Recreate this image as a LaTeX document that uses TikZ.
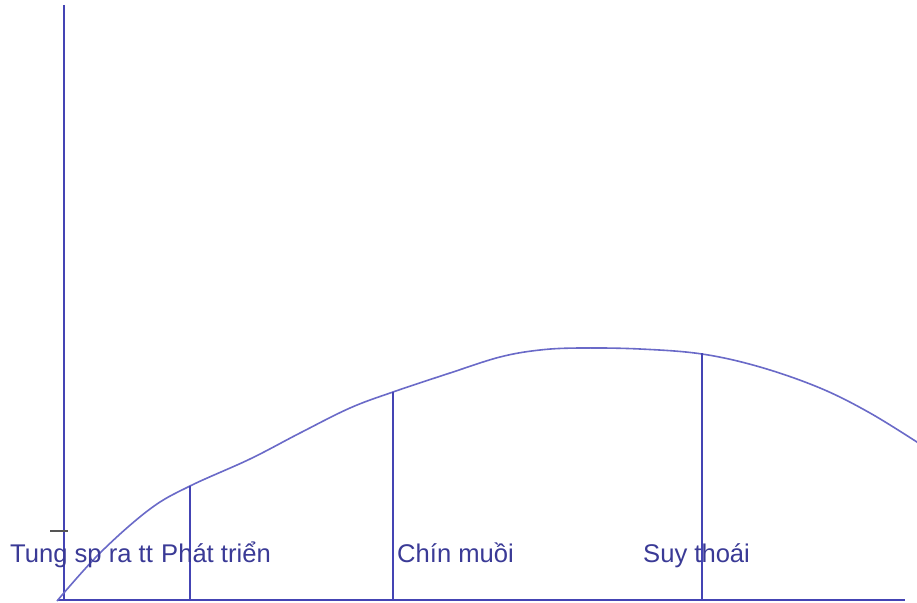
\documentclass[tikz,border=0pt]{standalone}
\usepackage{fontspec}
\setmainfont{Liberation Sans}
\definecolor{axisc}{HTML}{4444B4}
\definecolor{curvec}{HTML}{6A6AC8}
\definecolor{textc}{HTML}{3A3A96}
\definecolor{tickc}{HTML}{555555}
\begin{document}
\begin{tikzpicture}[x=1pt,y=-1pt,
  axis/.style={draw=axisc,line width=1.7pt},
  vline/.style={draw=axisc,line width=1.6pt},
  curve/.style={draw=curvec,line width=1.6pt},
  lbl/.style={text=textc,font=\fontsize{25.6}{29}\selectfont,inner sep=0pt,anchor=base west}]
\useasboundingbox (0,0) rectangle (917,602);
\fill[white] (0,0) rectangle (917,602);
% axes
\coordinate (ytop) at (64,5);
\coordinate (ybot) at (64,601);
\coordinate (xl) at (58,600);
\coordinate (xr) at (905,600);
\draw[axis] (ytop) -- (ybot);
\draw[axis] (xl) -- (xr);
% tick
\coordinate (t1) at (50,531);
\coordinate (t2) at (68,531);
\draw[draw=tickc,line width=1.8pt] (t1) -- (t2);
% curve
\draw[curve] plot[smooth,tension=0.6] coordinates {
 (57,601) (100,553) (150,509) (190,486) (250,459) (300,433) (350,408) (393,392)
 (450,373) (500,357) (540,350) (580,348) (640,349) (702,354) (760,367) (820,388) (870,413) (920,444)};
% phase boundaries
\coordinate (p1) at (190,486);
\coordinate (p1b) at (190,600);
\coordinate (p2) at (393,392);
\coordinate (p2b) at (393,600);
\coordinate (p3) at (702,353);
\coordinate (p3b) at (702,600);
\draw[vline] (p1) -- (p1b);
\draw[vline] (p2) -- (p2b);
\draw[vline] (p3) -- (p3b);
% labels
\node[lbl] (l1) at (10,562) {Tung sp ra tt};
\node[lbl] (l2) at (161,562) {Phát triển};
\node[lbl] (l3) at (397,562) {Chín muồi};
\node[lbl] (l4) at (643,562) {Suy thoái};
\end{tikzpicture}
\end{document}
